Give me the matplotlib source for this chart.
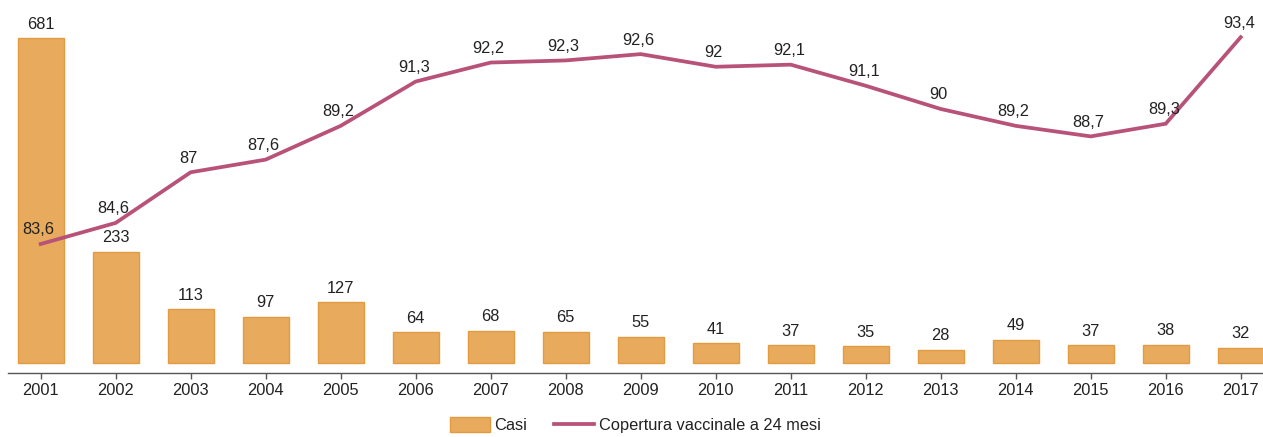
import matplotlib
matplotlib.use("Agg")
import matplotlib.pyplot as plt
from matplotlib.patches import Patch
from matplotlib.lines import Line2D

years = [str(y) for y in range(2001, 2018)]
casi = [681, 233, 113, 97, 127, 64, 68, 65, 55, 41, 37, 35, 28, 49, 37, 38, 32]
copertura = [83.6, 84.6, 87, 87.6, 89.2, 91.3, 92.2, 92.3, 92.6, 92, 92.1, 91.1, 90, 89.2, 88.7, 89.3, 93.4]

bar_color = "#E8AB5E"
bar_edge = "#E39B40"
line_color = "#B85278"
text_color = "#222222"
fs = 11.8

plt.rcParams['font.family'] = ['Liberation Sans', 'DejaVu Sans']

W, H = 1263, 437
fig = plt.figure(figsize=(W / 100, H / 100), dpi=100)
ax = fig.add_axes([8 / W, 64 / H, 1255 / W, 373 / H])
x = list(range(len(years)))

k = 0.4772  # px per case
ax.set_ylim(-10 / k, (373 - 10) / k)
ax.set_xlim((8 - 40.7) / 75, (1263 - 40.7) / 75)
ax.bar(x, casi, width=46 / 75, color=bar_color, edgecolor=bar_edge, linewidth=1.0, zorder=2)
for xi, v in zip(x, casi):
    ax.annotate(str(v), (xi, v), xytext=(0, 14), textcoords='offset pixels',
                ha='center', va='center', fontsize=fs, color=text_color)

for s in ['top', 'right', 'left']:
    ax.spines[s].set_visible(False)
ax.spines['bottom'].set_color('#555555')
ax.spines['bottom'].set_linewidth(1.0)
ax.set_yticks([])
ax.set_xticks(x)
ax.set_xticklabels(years, fontsize=fs, color=text_color)
ax.tick_params(axis='x', length=4.5, width=1.0, color='#555555', pad=2.5)

ax2 = ax.twinx()
kk = 21.1
ax2.set_ylim(83.6 - 129 / kk, 83.6 + 244 / kk)
ax2.plot(x, copertura, color=line_color, linewidth=2.7, solid_joinstyle='miter', zorder=3)
for xi, v in zip(x, copertura):
    lab = (f"{v:g}").replace('.', ',')
    ax2.annotate(lab, (xi, v), xytext=(-2, 14), textcoords='offset pixels',
                 ha='center', va='center', fontsize=fs, color=text_color)
ax2.set_xlim(ax.get_xlim())
for s in ax2.spines.values():
    s.set_visible(False)
ax2.set_yticks([])

handles = [Patch(facecolor=bar_color, edgecolor=bar_edge, linewidth=1.0),
           Line2D([0], [0], color=line_color, linewidth=2.7)]
fig.legend(handles, ["Casi", "Copertura vaccinale a 24 mesi"], loc='center',
           bbox_to_anchor=(0.503, 12 / H), ncol=2, frameon=False, fontsize=fs,
           handlelength=2.44, handleheight=0.98, handletextpad=0.26,
           columnspacing=1.65, labelcolor=text_color, borderaxespad=0, borderpad=0)

fig.savefig("out.png", dpi=100)
